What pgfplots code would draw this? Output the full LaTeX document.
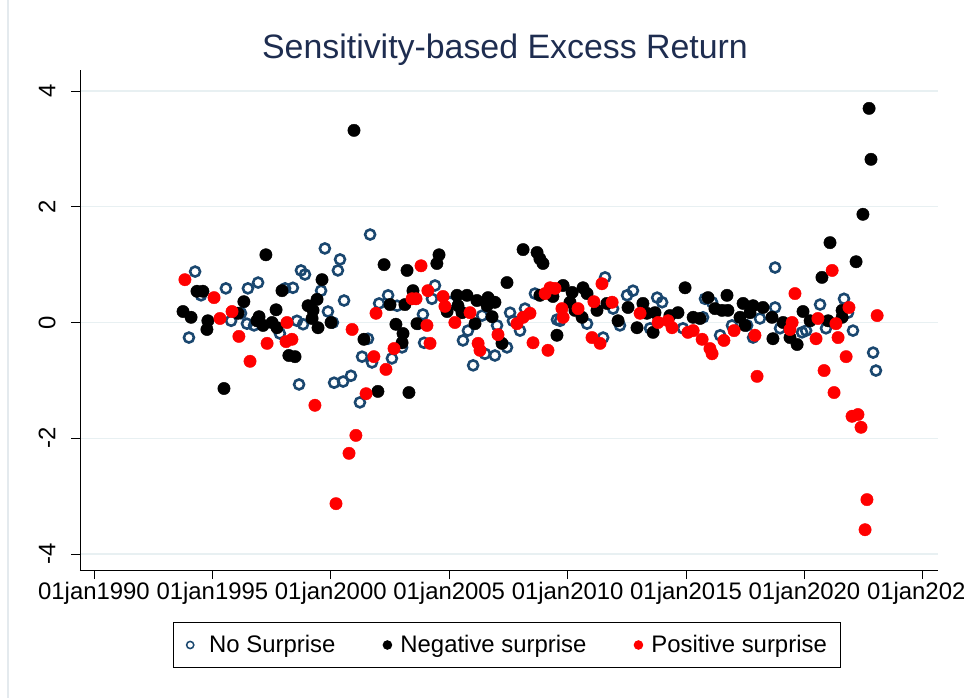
\documentclass[border=0pt]{standalone}
\usepackage{pgfplots}
\pgfplotsset{compat=1.18}
\usepackage{fontspec}
\setmainfont{Liberation Sans}
\definecolor{stnavy}{RGB}{26,71,111}
\definecolor{stred}{RGB}{255,0,0}
\definecolor{gridc}{RGB}{232,240,242}
\definecolor{titlec}{RGB}{30,45,80}
\definecolor{framec}{RGB}{228,234,238}
\pgfplotsset{
 legfilled/.style={legend image code/.code={\path[draw=none,fill=none] (-5bp,0bp) -- (5bp,0bp); \draw[##1, mark size=4.3bp] plot coordinates {(0bp,0bp)};}},
 leghollow/.style={legend image code/.code={\path[draw=none,fill=none] (-5bp,0bp) -- (11bp,0bp); \draw[##1, mark size=3.6bp, mark options={line width=1.5bp}] plot coordinates {(0bp,0bp)};}},
}
\begin{document}
\begin{tikzpicture}
\path[use as bounding box] (-80bp,-128bp) rectangle (884bp,570bp);
\draw[framec, line width=1.2bp] (-72bp,-140bp) -- (-72bp,580bp);
\begin{axis}[
 at={(0,0)}, anchor=south west,
 scale only axis, width=858bp, height=500bp,
 xmin=1989.41, xmax=2025.64, ymin=-4.276, ymax=4.363,
 axis x line*=bottom, axis y line*=left,
 axis line style={line width=0.9bp, -},
 xtick={1990,1995,...,2025},
 xticklabels={01jan1990,01jan1995,01jan2000,01jan2005,01jan2010,01jan2015,01jan2020,01jan2025},
 ytick={-4,-2,0,2,4}, yticklabels={-4,-2,0,2,4},
 yticklabel style={rotate=90, anchor=south},
 yticklabel shift=12bp,
 tick align=outside, major tick length=9bp,
 tick style={black, line width=0.9bp},
 ymajorgrids, grid style={gridc, line width=1.3bp},
 ticklabel style={font=\fontsize{24}{27}\selectfont},
 legend style={at={(0.4977,-0.15)}, anchor=center, draw=black, line width=0.9bp,
   font=\fontsize{24}{28}\selectfont, legend columns=3,
   /tikz/every odd column/.append style={column sep=6bp},
   /tikz/every even column/.append style={column sep=45bp},
   inner xsep=12bp, inner ysep=11bp},
 legend cell align=left,
 clip=false,
]
\addplot[only marks, mark=o, mark size=5bp, draw=stnavy, line width=2.6bp,
 mark options={draw=stnavy, line width=2.6bp, fill=none}, leghollow]
 table {
1994.27 0.88
1994.01 -0.26
1994.52 0.47
1995.57 0.59
1996.50 0.59
1996.93 0.69
1995.79 0.03
1996.21 0.16
1996.46 -0.02
1996.76 -0.05
1998.07 0.59
1998.40 0.60
1998.74 0.90
1998.91 0.83
1999.75 1.28
2000.39 1.09
2000.30 0.90
1999.59 0.55
2000.56 0.38
1999.88 0.19
2000.09 0.00
1998.57 0.03
1998.83 -0.03
1997.85 -0.19
1998.66 -1.07
2000.14 -1.04
2000.52 -1.02
2000.85 -0.92
2001.23 -1.38
2001.66 1.52
2001.57 -0.28
2001.32 -0.59
2001.74 -0.69
2002.04 0.33
2002.42 0.47
2002.80 0.29
2002.58 -0.62
2003.01 -0.43
2003.89 0.14
2003.72 -0.02
2003.94 -0.35
2004.40 0.64
2004.27 0.41
2005.03 0.35
2005.79 -0.14
2005.58 -0.31
2006.01 -0.74
2006.39 0.12
2006.51 -0.54
2006.93 -0.57
2007.02 -0.05
2007.44 -0.43
2007.57 0.17
2007.69 0.03
2007.99 -0.14
2008.20 0.24
2008.62 0.50
2009.55 0.05
2009.68 0.03
2010.82 -0.02
2011.58 0.78
2011.92 0.24
2011.50 -0.26
2012.76 0.55
2012.51 0.47
2013.78 0.43
2012.21 -0.05
2013.48 -0.10
2013.99 0.35
2015.80 0.41
2016.10 0.35
2015.72 0.09
2016.44 -0.22
2016.94 -0.05
2017.58 -0.05
2018.12 0.07
2017.83 -0.26
2014.87 -0.10
2018.76 0.26
2018.76 0.95
2018.97 -0.10
2019.90 -0.17
2020.07 -0.14
2020.66 0.31
2020.91 -0.10
2021.67 0.41
2021.84 0.17
2022.05 -0.14
2022.90 -0.52
2023.02 -0.83
};
\addlegendentry{No Surprise}
\addplot[only marks, mark=*, mark size=6.2bp, draw=black, fill=black, legfilled]
 table {
1993.76 0.19
1994.10 0.09
1994.35 0.54
1994.60 0.54
1994.81 0.03
1994.77 -0.12
1995.49 -1.14
1996.33 0.36
1996.08 0.16
1996.97 0.10
1996.88 0.03
1997.14 -0.05
1997.26 1.17
1997.69 0.22
1997.52 0.00
1997.73 -0.09
1997.94 0.55
1998.23 -0.57
1998.49 -0.59
1999.63 0.74
1999.42 0.40
1999.04 0.29
1999.25 0.21
1999.21 0.07
1999.46 -0.09
2000.01 0.00
2000.98 3.32
2001.40 -0.29
2001.99 -1.19
2002.25 1.00
2002.50 0.31
2002.75 -0.03
2003.05 -0.19
2003.01 -0.35
2003.13 0.31
2003.22 0.90
2003.30 -1.21
2003.47 0.55
2003.64 -0.02
2004.57 1.17
2004.48 1.02
2004.91 0.19
2005.33 0.47
2005.37 0.29
2005.54 0.17
2005.75 0.47
2006.17 0.38
2006.09 -0.02
2006.64 0.43
2006.93 0.35
2006.60 0.29
2006.81 0.10
2007.23 -0.36
2007.44 0.69
2008.12 1.26
2008.71 1.21
2008.83 1.10
2008.96 1.02
2008.83 0.47
2009.38 0.45
2009.55 -0.22
2009.81 0.64
2010.19 0.52
2010.65 0.60
2010.82 0.50
2010.10 0.35
2010.31 0.21
2010.61 0.09
2011.24 0.21
2011.66 0.33
2012.13 0.03
2012.55 0.26
2012.93 -0.09
2013.18 0.33
2013.35 0.16
2013.69 0.17
2013.61 -0.17
2014.32 0.12
2014.66 0.17
2014.96 0.60
2015.30 0.09
2015.59 0.07
2015.93 0.43
2016.73 0.47
2016.22 0.24
2016.52 0.21
2016.77 0.21
2017.41 0.33
2017.83 0.29
2018.25 0.26
2017.70 0.17
2017.28 0.09
2017.49 -0.05
2018.63 0.09
2018.67 -0.28
2019.10 0.00
2019.39 -0.02
2019.39 -0.26
2019.69 -0.38
2019.94 0.19
2020.24 0.03
2020.74 0.78
2021.00 0.03
2021.08 1.38
2021.59 0.21
2021.59 0.09
2022.18 1.05
2022.47 1.87
2022.73 3.70
2022.81 2.82
};
\addlegendentry{Negative surprise}
\addplot[only marks, mark=*, mark size=6.2bp, draw=stred, fill=stred, legfilled]
 table {
1993.84 0.74
1995.07 0.43
1995.32 0.07
1995.83 0.19
1996.12 -0.24
1996.59 -0.67
1997.31 -0.36
1998.15 0.00
1998.11 -0.33
1998.36 -0.29
1999.33 -1.43
2000.22 -3.13
2000.77 -2.26
2000.90 -0.12
2001.06 -1.95
2001.49 -1.23
2001.82 -0.59
2001.91 0.16
2002.33 -0.81
2002.67 -0.45
2003.43 0.41
2003.60 0.41
2003.81 0.98
2004.10 0.55
2004.06 -0.05
2004.19 -0.36
2004.74 0.45
2004.82 0.28
2005.24 0.00
2005.88 0.17
2006.22 -0.36
2006.30 -0.48
2007.06 -0.21
2007.86 -0.02
2008.12 0.09
2008.41 0.16
2008.54 -0.35
2009.17 -0.48
2009.05 0.50
2009.26 0.60
2009.47 0.59
2009.76 0.24
2009.81 0.09
2010.44 0.24
2011.11 0.36
2011.45 0.67
2011.88 0.35
2011.03 -0.26
2011.37 -0.36
2013.06 0.16
2013.82 0.00
2014.24 0.03
2014.41 -0.09
2015.08 -0.17
2015.30 -0.14
2015.68 -0.29
2016.01 -0.45
2016.10 -0.54
2016.60 -0.31
2017.03 -0.14
2017.91 -0.22
2018.00 -0.93
2019.60 0.50
2019.48 0.00
2019.39 -0.12
2020.57 0.07
2020.49 -0.28
2021.17 0.90
2021.33 -0.02
2021.42 -0.26
2021.88 0.26
2021.76 -0.59
2020.83 -0.83
2021.25 -1.21
2022.01 -1.62
2022.26 -1.59
2022.39 -1.81
2022.64 -3.06
2022.56 -3.58
2023.07 0.12
};
\addlegendentry{Positive surprise}
\end{axis}
\node[font=\fontsize{34}{40}\selectfont, text=titlec] at (425bp,520bp) {Sensitivity-based Excess Return};
\end{tikzpicture}
\end{document}
